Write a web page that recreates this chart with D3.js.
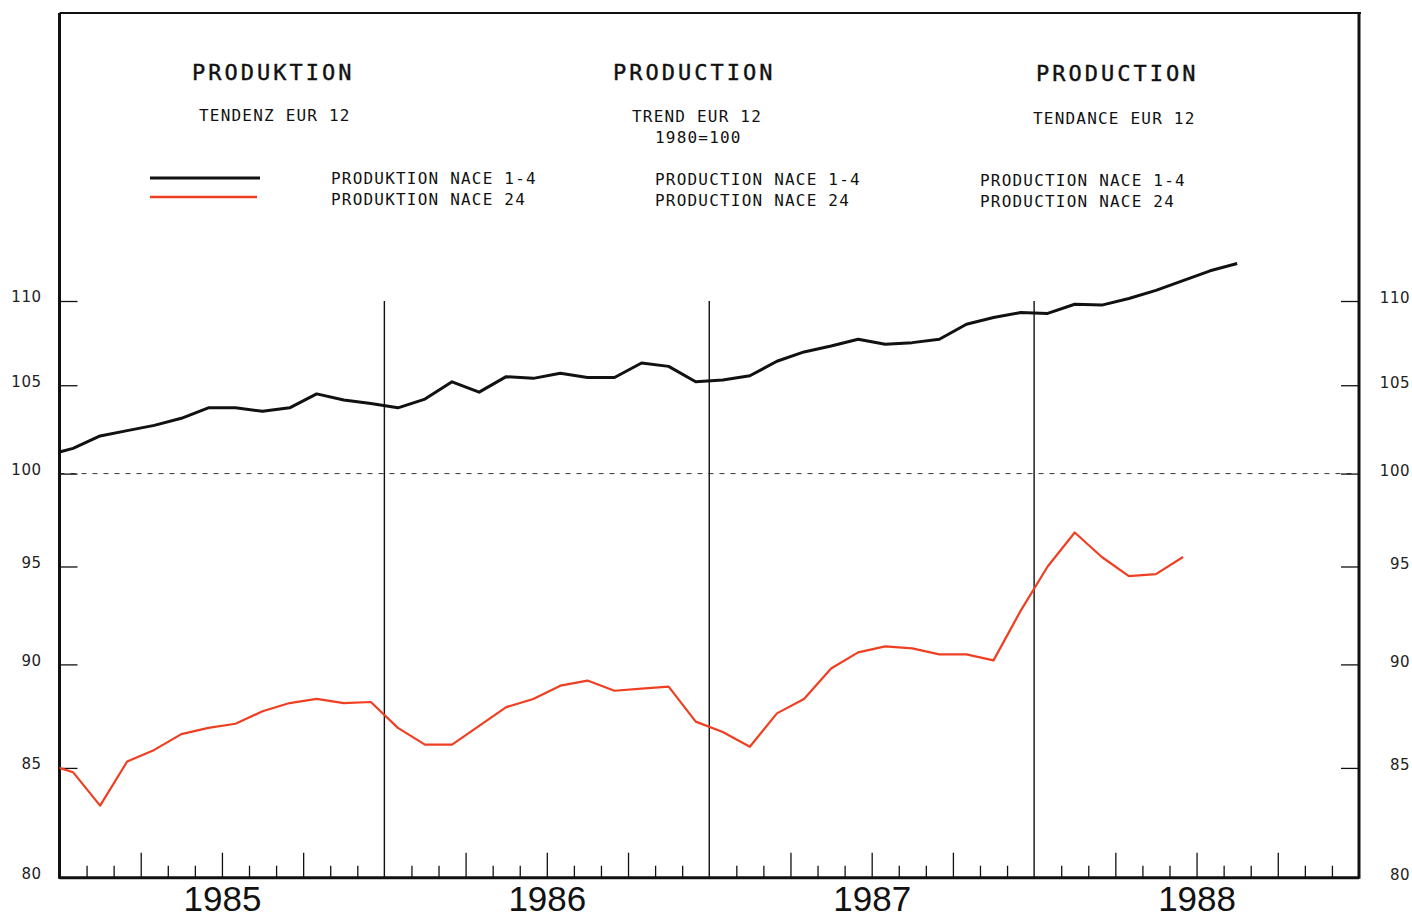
<!DOCTYPE html>
<html>
<head>
<meta charset="utf-8">
<script src="https://cdn.jsdelivr.net/npm/d3@7"></script>
<style>
  html, body { margin: 0; padding: 0; background: #ffffff; }
  svg { display: block; }
  .mono { font-family: "DejaVu Sans Mono", monospace; fill: #111; }
</style>
</head>
<body>
<svg id="chart" width="1412" height="919"></svg>
<script>
// ---------------- DATA ----------------
const firstMonth = "1984-12";              // month of the first value in each series
const years = ["1985", "1986", "1987", "1988"];
const yTicks = [80, 85, 90, 95, 100, 105, 110];

// PRODUKTION NACE 1-4 (black), monthly Dec 1984 .. Aug 1988
const nace14 = [
  101.0,
  101.4, 102.1, 102.4, 102.7, 103.1, 103.7, 103.7, 103.5, 103.7, 104.5, 104.15, 103.95,
  103.7, 104.2, 105.2, 104.6, 105.5, 105.4, 105.7, 105.45, 105.45, 106.3, 106.1, 105.2,
  105.3, 105.55, 106.4, 106.95, 107.3, 107.7, 107.4, 107.5, 107.7, 108.6, 109.0, 109.3,
  109.25, 109.8, 109.75, 110.15, 110.65, 111.25, 111.85, 112.3
];
// PRODUKTION NACE 24 (red), monthly Dec 1984 .. Jun 1988
const nace24 = [
  85.2,
  84.8, 83.25, 85.3, 85.85, 86.6, 86.9, 87.1, 87.7, 88.1, 88.3, 88.1, 88.15,
  86.9, 86.1, 86.1, 87.0, 87.9, 88.3, 88.95, 89.2, 88.7, 88.8, 88.9, 87.2,
  86.7, 86.0, 87.6, 88.3, 89.8, 90.6, 90.9, 90.8, 90.5, 90.5, 90.2, 92.7,
  95.0, 96.8, 95.5, 94.5, 94.6, 95.5
];

const titles = [
  { title: "PRODUKTION", sub: ["TENDENZ EUR 12"], legend: ["PRODUKTION NACE 1-4", "PRODUKTION NACE 24"] },
  { title: "PRODUCTION", sub: ["TREND EUR 12", "1980=100"], legend: ["PRODUCTION NACE 1-4", "PRODUCTION NACE 24"] },
  { title: "PRODUCTION", sub: ["TENDANCE EUR 12"], legend: ["PRODUCTION NACE 1-4", "PRODUCTION NACE 24"] }
];

// ---------------- CHART ----------------
(function () {
const svg = d3.select("#chart");
const baseYear = +years[0];
const [fy, fm] = firstMonth.split("-").map(Number);
const startIdx = (fy - baseYear) * 12 + (fm - 1);   // month index relative to Jan 1985

const x = d3.scaleLinear().domain([0, years.length * 12]).range([59.5, 1359]);
const y = d3.scaleLog().domain([80, 110]).range([877.7, 301]);

const pLeft = x(0), pRight = x(years.length * 12), pTop = 13, pBottom = y(80);

svg.append("defs").append("clipPath").attr("id", "plotclip")
  .append("rect").attr("x", pLeft).attr("y", pTop).attr("width", pRight - pLeft).attr("height", pBottom - pTop);

// 100 reference dashed line
svg.append("line")
  .attr("x1", pLeft).attr("x2", pRight).attr("y1", y(100)).attr("y2", y(100))
  .attr("stroke", "#333").attr("stroke-width", 1).attr("stroke-dasharray", "5,6");

// year divider lines (from 110 level down to axis)
svg.append("g").selectAll("line")
  .data(d3.range(1, years.length))
  .join("line")
  .attr("x1", d => x(d * 12)).attr("x2", d => x(d * 12))
  .attr("y1", y(110)).attr("y2", pBottom)
  .attr("stroke", "#111").attr("stroke-width", 1.4);

// bottom axis: month ticks (inward)
const monthTicks = d3.range(1, years.length * 12).filter(m => m % 12 !== 0);
const gx = svg.append("g").attr("transform", `translate(0,${pBottom})`)
  .call(d3.axisBottom(x).tickValues(monthTicks).tickSizeInner(-12).tickSizeOuter(0).tickFormat(""));
gx.select(".domain").remove();
gx.selectAll(".tick line")
  .attr("y2", d => (d % 3 === 0 ? -25 : -12))
  .attr("stroke", "#111").attr("stroke-width", 1.3);

// year labels
const gy = svg.append("g").attr("transform", `translate(0,${pBottom})`)
  .call(d3.axisBottom(x).tickValues(years.map((_, i) => i * 12 + 6)).tickSize(0)
    .tickFormat((d, i) => years[i]));
gy.select(".domain").remove();
gy.selectAll("text")
  .attr("y", 0).attr("dy", "33px")
  .style("font-family", "'Liberation Sans', Arial, sans-serif")
  .style("font-size", "35px").attr("fill", "#111");

// left axis
const gl = svg.append("g").attr("transform", `translate(${pLeft},0)`)
  .call(d3.axisLeft(y).tickValues(yTicks).tickFormat(d3.format("d"))
    .tickSizeInner(-18).tickSizeOuter(0).tickPadding(18));
gl.select(".domain").remove();
gl.selectAll(".tick line").attr("stroke", "#111").attr("stroke-width", 1.3);
gl.selectAll("text")
  .attr("dy", "0.32em").attr("y", -4)
  .style("font-family", "'DejaVu Sans', sans-serif").style("font-size", "15px")
  .style("letter-spacing", "0.5px").attr("fill", "#222");

// right axis
const gr = svg.append("g").attr("transform", `translate(${pRight},0)`)
  .call(d3.axisRight(y).tickValues(yTicks).tickFormat(d3.format("d"))
    .tickSizeInner(-18).tickSizeOuter(0).tickPadding(51));
gr.select(".domain").remove();
gr.selectAll(".tick line").attr("stroke", "#111").attr("stroke-width", 1.3);
gr.selectAll("text")
  .attr("text-anchor", "end").attr("dy", "0.32em").attr("y", -3)
  .style("font-family", "'DejaVu Sans', sans-serif").style("font-size", "15px")
  .style("letter-spacing", "0.5px").attr("fill", "#222");

// frame
svg.append("line").attr("x1", pLeft).attr("x2", pRight + 2).attr("y1", pTop).attr("y2", pTop)
  .attr("stroke", "#111").attr("stroke-width", 2);
svg.append("line").attr("x1", pLeft).attr("x2", pLeft).attr("y1", pTop).attr("y2", pBottom + 1)
  .attr("stroke", "#111").attr("stroke-width", 3);
svg.append("line").attr("x1", pRight).attr("x2", pRight).attr("y1", pTop).attr("y2", pBottom + 1)
  .attr("stroke", "#111").attr("stroke-width", 3);
svg.append("line").attr("x1", pLeft).attr("x2", pRight).attr("y1", pBottom).attr("y2", pBottom)
  .attr("stroke", "#111").attr("stroke-width", 3);

// series lines
const line = d3.line()
  .x((d, i) => x(startIdx + i + 0.5))
  .y(d => y(d));

const plot = svg.append("g").attr("clip-path", "url(#plotclip)");
plot.append("path").datum(nace24)
  .attr("d", line).attr("fill", "none")
  .attr("stroke", "#ef3f22").attr("stroke-width", 2.2).attr("stroke-linejoin", "round");
plot.append("path").datum(nace14)
  .attr("d", line).attr("fill", "none")
  .attr("stroke", "#111").attr("stroke-width", 3).attr("stroke-linejoin", "round");

// titles / legends
const blocks = [
  { tx: 192, sx: [199], sy: [121], lx: 331, ly: 184 },
  { tx: 613, sx: [632, 655], sy: [122, 143], lx: 655, ly: 185 },
  { tx: 1036, sx: [1033], sy: [124], lx: 980, ly: 186 }
];
titles.forEach((t, i) => {
  const b = blocks[i];
  svg.append("text").attr("class", "mono")
    .attr("x", b.tx).attr("y", 80 + (i === 2 ? 1 : 0))
    .style("font-size", "22px").style("letter-spacing", "3px")
    .attr("stroke", "#111").attr("stroke-width", 0.4)
    .text(t.title);
  t.sub.forEach((s, j) => {
    svg.append("text").attr("class", "mono")
      .attr("x", b.sx[j]).attr("y", b.sy[j])
      .style("font-size", "16px").style("letter-spacing", "1.2px")
      .text(s);
  });
  t.legend.forEach((s, j) => {
    svg.append("text").attr("class", "mono")
      .attr("x", b.lx).attr("y", b.ly + j * 21)
      .style("font-size", "16px").style("letter-spacing", "1.2px")
      .text(s);
  });
});

// legend swatches
svg.append("line").attr("x1", 150).attr("x2", 260).attr("y1", 178).attr("y2", 178)
  .attr("stroke", "#111").attr("stroke-width", 3);
svg.append("line").attr("x1", 150).attr("x2", 257).attr("y1", 197).attr("y2", 197)
  .attr("stroke", "#ef3f22").attr("stroke-width", 2.5);
})();
</script>
</body>
</html>
